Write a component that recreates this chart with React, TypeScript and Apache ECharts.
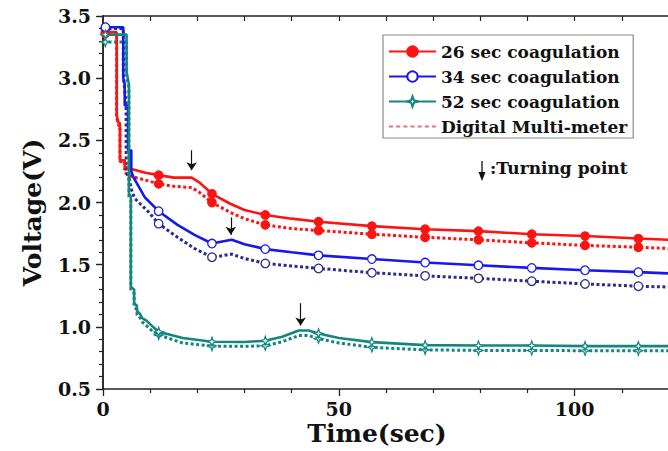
import React, { useEffect, useRef } from "react";
import * as echarts from "echarts";

// ---- data ----
const markerTimes = [0.5, 11.8, 23.1, 34.4, 45.7, 57, 68.3, 79.6, 90.9, 102.2, 113.5];

const red26Time = [0, 0.5, 2.9, 2.9, 3.3, 3.6, 3.6, 4.6, 4.6, 6, 9, 11.8, 15, 18.8, 20.5, 23.1, 27, 30, 34.4, 40, 45.7, 57, 68.3, 79.6, 90.9, 102.2, 113.5, 120];
const red26Volt = [3.37, 3.37, 3.37, 2.7, 2.64, 2.64, 2.34, 2.34, 2.29, 2.27, 2.24, 2.22, 2.2, 2.2, 2.16, 2.07, 1.99, 1.94, 1.9, 1.87, 1.845, 1.81, 1.785, 1.77, 1.745, 1.73, 1.71, 1.7];
const red26DmmVolt = [3.36, 3.36, 3.36, 2.68, 2.62, 2.62, 2.33, 2.33, 2.24, 2.21, 2.18, 2.15, 2.13, 2.12, 2.08, 2.0, 1.92, 1.87, 1.82, 1.79, 1.775, 1.745, 1.72, 1.7, 1.675, 1.655, 1.64, 1.63];

const blue34Time = [0, 0.5, 4.3, 4.3, 4.6, 4.6, 5.3, 5.3, 6.0, 6.0, 6.5, 8.9, 11.8, 15.8, 19.4, 23.1, 25, 27.3, 30, 34.4, 40, 45.7, 57, 68.3, 79.6, 90.9, 102.2, 113.5, 120];
const blue34Volt = [3.41, 3.41, 3.41, 3.0, 2.95, 2.78, 2.78, 2.42, 2.42, 2.25, 2.2, 2.04, 1.93, 1.82, 1.74, 1.67, 1.685, 1.7, 1.665, 1.625, 1.6, 1.575, 1.545, 1.517, 1.495, 1.474, 1.455, 1.44, 1.43];
const blue34DmmTime = [0, 0.5, 4.3, 4.3, 4.9, 4.9, 5.6, 6.2, 6.8, 9.5, 11.8, 15.8, 19.4, 23.1, 25, 27.3, 30, 34.4, 40, 45.7, 57, 68.3, 79.6, 90.9, 102.2, 113.5, 120];
const blue34DmmVolt = [3.4, 3.4, 3.4, 3.02, 2.8, 2.25, 2.18, 2.08, 2.03, 1.93, 1.83, 1.72, 1.63, 1.56, 1.57, 1.585, 1.55, 1.51, 1.49, 1.47, 1.435, 1.41, 1.39, 1.367, 1.345, 1.327, 1.32];

const teal52Time = [0, 0.5, 5.0, 5.0, 5.5, 5.5, 5.9, 5.9, 6.6, 6.6, 7.2, 7.2, 7.9, 8.3, 9.2, 10.6, 11.8, 16.9, 23.1, 30, 34.4, 38, 41.5, 43.6, 45.7, 50, 57, 68.3, 79.6, 90.9, 102.2, 113.5, 120];
const teal52Volt = [3.35, 3.35, 3.35, 3.05, 2.95, 2.07, 2.05, 1.32, 1.3, 1.19, 1.17, 1.13, 1.1, 1.07, 1.05, 1.0, 0.96, 0.91, 0.88, 0.878, 0.888, 0.92, 0.97, 0.97, 0.947, 0.91, 0.877, 0.853, 0.85, 0.85, 0.845, 0.845, 0.845];
const teal52DmmVolt = [3.29, 3.29, 3.29, 3.02, 2.92, 2.04, 2.02, 1.3, 1.27, 1.16, 1.14, 1.1, 1.07, 1.04, 1.01, 0.96, 0.935, 0.87, 0.845, 0.843, 0.848, 0.88, 0.93, 0.93, 0.905, 0.87, 0.835, 0.815, 0.81, 0.81, 0.808, 0.808, 0.808];

// turning-point arrows (time, arrow tail voltage, arrow tip voltage)
const turnArrowTime = [18.8, 27.1, 41.9];
const turnArrowTail = [2.42, 1.88, 1.19];
const turnArrowTip = [2.26, 1.74, 1.01];

const xMajorTicks = [0, 50, 100];
const xMinorTicks = [10, 20, 30, 40, 60, 70, 80, 90, 110];
const xTopTicks = [10, 20, 30, 40, 50, 60, 70, 80, 90, 100, 110];

// ---- styles ----
const FONT = "DejaVu Serif";
const RED = "#ff1212";
const BLUE = "#1818ee";
const NAVY = "#2c2c8c";
const TEAL = "#13877f";
const STAR = "path://M5,0 L6.3,3.7 L10,5 L6.3,6.3 L5,10 L3.7,6.3 L0,5 L3.7,3.7 Z";
const DASH_ICON = "path://M0,0h4v2h-4z M7,0h4v2h-4z M14,0h4v2h-4z M21,0h4v2h-4z M28,0h4v2h-4z M35,0h4v2h-4z M42,0h4v2h-4z";

function points(times: number[], volts: number[]) {
  return times.map((t, i) => {
    const item: any = { value: [t, volts[i]] };
    if (!markerTimes.includes(t)) item.symbol = "none";
    return item;
  });
}

function lineSeries(name: string, times: number[], volts: number[], o: any) {
  return {
    type: "line",
    name,
    data: points(times, volts),
    showAllSymbol: true,
    symbol: o.symbol,
    symbolSize: o.symbolSize,
    z: o.z,
    lineStyle: { color: o.color, width: o.width, type: o.dash || "solid" },
    itemStyle: { color: o.fill, borderColor: o.color, borderWidth: o.borderWidth ?? 1.2 },
    emphasis: { disabled: true },
    silent: true,
    markLine: o.markLine,
  };
}

export default function App() {
  const ref = useRef<HTMLDivElement>(null);

  useEffect(() => {
    if (!ref.current) return;
    const chart = echarts.init(ref.current, undefined, { renderer: "svg" });

    const arrowData = turnArrowTime.map((t, i) => [
      { coord: [t, turnArrowTail[i]] },
      { coord: [t, turnArrowTip[i]] },
    ]);

    const axisFont = { fontFamily: FONT, fontWeight: "bold", fontSize: 19, color: "#111" };

    chart.setOption({
      animation: false,
      backgroundColor: "#ffffff",
      grid: { left: 103, top: 16, right: -1, bottom: 62, outerBoundsMode: "none", containLabel: false },
      xAxis: [
        {
          type: "value",
          position: "bottom",
          min: 0,
          max: 120,
          name: "Time(sec)",
          nameLocation: "middle",
          nameGap: 32,
          nameMoveOverlap: false,
          nameTextStyle: { fontFamily: FONT, fontWeight: "bold", fontSize: 25, color: "#111", padding: [0, 18, 0, 0] },
          axisLine: { show: true, lineStyle: { color: "#222", width: 1.5 } },
          axisTick: { show: true, length: 7, customValues: xMajorTicks, lineStyle: { color: "#222", width: 1.3 } },
          axisLabel: { show: true, customValues: xMajorTicks, margin: 10, ...axisFont },
          splitLine: { show: false },
        },
        {
          type: "value",
          position: "bottom",
          min: 0,
          max: 120,
          axisLine: { show: false },
          axisTick: { show: true, length: 4, customValues: xMinorTicks, lineStyle: { color: "#222", width: 1.2 } },
          axisLabel: { show: false },
          splitLine: { show: false },
        },
        {
          type: "value",
          position: "top",
          min: 0,
          max: 120,
          axisLine: { show: true, lineStyle: { color: "#222", width: 1.5 } },
          axisTick: { show: true, inside: true, length: 5, customValues: xTopTicks, lineStyle: { color: "#222", width: 1.2 } },
          axisLabel: { show: false },
          splitLine: { show: false },
        },
      ],
      yAxis: [
        {
          type: "value",
          position: "left",
          min: 0.5,
          max: 3.5,
          interval: 0.5,
          name: "Voltage(V)",
          nameLocation: "middle",
          nameGap: 58,
          nameMoveOverlap: false,
          nameTextStyle: { fontFamily: FONT, fontWeight: "bold", fontSize: 25, color: "#111", padding: [0, 20, 0, 0] },
          axisLine: { show: true, lineStyle: { color: "#222", width: 1.5 } },
          axisTick: { show: true, length: 7, lineStyle: { color: "#222", width: 1.3 } },
          minorTick: { show: true, splitNumber: 5, length: 4, lineStyle: { color: "#222", width: 1.1 } },
          axisLabel: { show: true, margin: 12, formatter: (v: number) => v.toFixed(1), ...axisFont },
          splitLine: { show: false },
          minorSplitLine: { show: false },
        },
        {
          type: "value",
          position: "right",
          min: 0.5,
          max: 3.5,
          interval: 0.5,
          axisLine: { show: true, lineStyle: { color: "#222", width: 1.5 } },
          axisTick: { show: true, inside: true, length: 6, lineStyle: { color: "#222", width: 1.2 } },
          minorTick: { show: true, splitNumber: 5, length: 4, lineStyle: { color: "#222", width: 1.1 } },
          axisLabel: { show: false },
          splitLine: { show: false },
        },
      ],
      legend: {
        show: true,
        orient: "vertical",
        left: 383,
        top: 35,
        padding: [8, 6, 3, 5],
        itemGap: 8,
        itemWidth: 47,
        itemHeight: 13,
        borderColor: "#8a8a8a",
        borderWidth: 1.2,
        backgroundColor: "#ffffff",
        selectedMode: false,
        textStyle: { fontFamily: FONT, fontWeight: "bold", fontSize: 17, color: "#111" },
        data: [
          "26 sec coagulation",
          "34 sec coagulation",
          "52 sec coagulation",
          { name: "Digital Multi-meter", icon: DASH_ICON, itemStyle: { color: "#d97a7a", borderWidth: 0 } },
        ],
      },
      graphic: [
        { type: "line", shape: { x1: 482, y1: 161, x2: 482, y2: 175 }, style: { stroke: "#111", lineWidth: 1.3 } },
        { type: "polygon", shape: { points: [[478.5, 172], [485.5, 172], [482, 181]] }, style: { fill: "#111" } },
        {
          type: "text",
          x: 490,
          y: 168,
          style: { text: ":Turning point", fontFamily: FONT, fontWeight: "bold", fontSize: 17, fill: "#111", verticalAlign: "middle" },
        },
      ],
      series: [
        lineSeries("Digital Multi-meter", red26Time, red26DmmVolt, { color: RED, fill: RED, width: 3, dash: [3, 2.5], symbol: "circle", symbolSize: 8.5, z: 2 }),
        lineSeries("DMM 34 sec", blue34DmmTime, blue34DmmVolt, { color: NAVY, fill: "#ffffff", width: 3, dash: [3, 2.5], symbol: "circle", symbolSize: 8.5, z: 2, borderWidth: 1.3 }),
        lineSeries("DMM 52 sec", teal52Time, teal52DmmVolt, { color: TEAL, fill: "#ffffff", width: 3, dash: [3, 2.5], symbol: STAR, symbolSize: 9, z: 2 }),
        lineSeries("26 sec coagulation", red26Time, red26Volt, {
          color: RED, fill: RED, width: 2.6, symbol: "circle", symbolSize: 8.5, z: 3,
          markLine: {
            silent: true,
            symbol: ["none", "arrow"],
            symbolSize: 8,
            label: { show: false },
            emphasis: { disabled: true },
            lineStyle: { color: "#111", width: 1.2, type: "solid" },
            data: arrowData,
          },
        }),
        lineSeries("34 sec coagulation", blue34Time, blue34Volt, { color: BLUE, fill: "#ffffff", width: 2.6, symbol: "circle", symbolSize: 8.5, z: 3, borderWidth: 1.3 }),
        lineSeries("52 sec coagulation", teal52Time, teal52Volt, { color: TEAL, fill: "#ffffff", width: 2.6, symbol: STAR, symbolSize: 9, z: 3 }),
      ],
    });

    return () => chart.dispose();
  }, []);

  return (
    <div
      ref={ref}
      style={{ position: "fixed", left: 0, top: 0, width: 668, height: 451, background: "#fff" }}
    />
  );
}
